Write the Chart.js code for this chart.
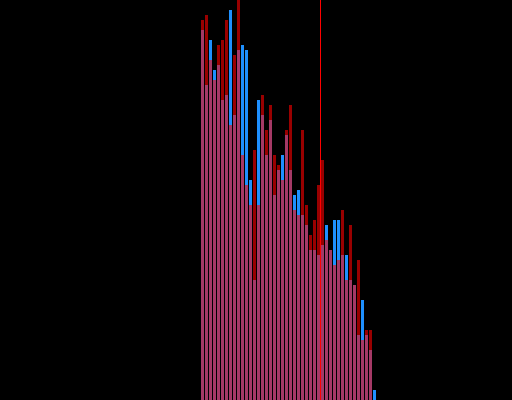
<!DOCTYPE html>
<html>
<head>
<meta charset="utf-8">
<script src="https://cdn.jsdelivr.net/npm/chart.js@4"></script>
<style>
  html, body { margin: 0; padding: 0; background: #000; }
  canvas { display: block; }
</style>
</head>
<body>
<canvas id="histChart" width="512" height="400"></canvas>
<script>
// bin index for each histogram bar
const bins = [
    0, 1, 2, 3, 4, 5, 6, 7, 8, 9,
    10, 11, 12, 13, 14, 15, 16, 17, 18, 19,
    20, 21, 22, 23, 24, 25, 26, 27, 28, 29,
    30, 31, 32, 33, 34, 35, 36, 37, 38, 39,
    40, 41, 42, 43
];

// counts, red series (drawn on top, translucent)
const redCounts = [
    76, 77, 68, 64, 71, 72, 76, 55, 69, 82,
    49, 43, 39, 50, 39, 61, 54, 59, 49, 47,
    44, 54, 59, 38, 37, 54, 39, 33, 36, 43,
    48, 32, 30, 27, 28, 38, 24, 35, 23, 28,
    12, 14, 14, 0
];

// counts, blue series
const blueCounts = [
    74, 63, 72, 66, 67, 60, 61, 78, 57, 70,
    71, 70, 44, 24, 60, 57, 49, 56, 41, 46,
    49, 53, 46, 41, 42, 37, 35, 30, 30, 29,
    31, 35, 30, 36, 36, 29, 29, 24, 23, 13,
    20, 13, 10, 2
];

// vertical marker between two bins
const markerX = 29.5;

const xRange = [-50.625, 77.375];
const yRange = [0, 80];

function toPoints(values) {
    return bins.map((b, i) => ({ x: b, y: values[i] }));
}

const ctx = document.getElementById('histChart');

new Chart(ctx, {
    data: {
        datasets: [
            {
                type: 'bar',
                label: 'red',
                data: toPoints(redCounts),
                backgroundColor: 'rgba(255, 0, 0, 0.6)',
                borderWidth: 0,
                barThickness: 3,
                inflateAmount: 0,
                grouped: false
            },
            {
                type: 'bar',
                label: 'blue',
                data: toPoints(blueCounts),
                backgroundColor: '#1e90ff',
                borderWidth: 0,
                barThickness: 3,
                inflateAmount: 0,
                grouped: false
            },
            {
                type: 'line',
                label: 'marker',
                data: [{ x: markerX, y: yRange[0] }, { x: markerX, y: yRange[1] }],
                borderColor: '#ff0000',
                borderWidth: 1,
                pointRadius: 0,
                fill: false
            }
        ]
    },
    options: {
        responsive: false,
        animation: false,
        layout: { padding: 0 },
        plugins: {
            legend: { display: false },
            tooltip: { enabled: false }
        },
        scales: {
            x: {
                type: 'linear',
                min: xRange[0],
                max: xRange[1],
                offset: false,
                display: false
            },
            y: {
                min: yRange[0],
                max: yRange[1],
                display: false
            }
        }
    }
});
</script>
</body>
</html>
